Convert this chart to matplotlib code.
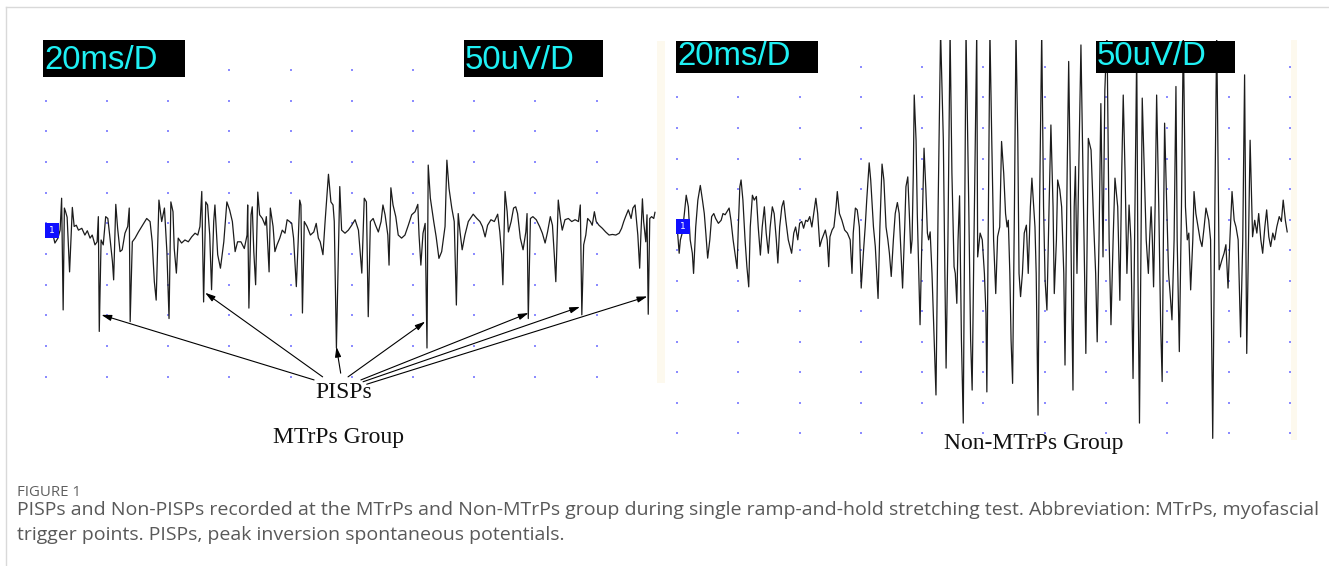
import numpy as np
import matplotlib.pyplot as plt
from matplotlib.patches import Rectangle
from matplotlib.lines import Line2D
from matplotlib.transforms import Affine2D

# ---- data (time in ms, amplitude in uV) ----
left_t = [2.4, 3.0, 4.0, 4.7, 5.2, 5.7, 6.1, 6.5, 7.0, 7.8,
          8.7, 9.3, 10.0, 10.7, 11.8, 12.8, 13.6, 14.5, 15.2, 16.1,
          16.8, 17.2, 17.5, 18.1, 18.8, 19.6, 20.3, 20.9, 21.8, 22.2,
          22.9, 23.5, 24.3, 25.0, 25.9, 26.8, 27.3, 27.6, 28.3, 29.2,
          30.3, 31.4, 33.0, 34.1, 34.8, 35.5, 36.1, 37.0, 37.9, 38.8,
          39.6, 40.3, 40.9, 41.6, 42.0, 42.7, 43.3, 44.4, 45.5, 46.6,
          47.7, 48.8, 49.7, 50.4, 51.0, 51.6, 52.3, 52.9, 53.6, 54.2,
          54.9, 55.3, 56.2, 57.1, 58.2, 59.2, 60.1, 61.0, 61.9, 62.7,
          63.8, 64.9, 65.8, 66.0, 66.4, 67.1, 67.5, 68.0, 68.6, 69.3,
          69.9, 70.8, 71.7, 72.1, 72.7, 73.0, 73.4, 74.3, 74.9, 75.6,
          76.5, 77.3, 78.2, 78.9, 79.7, 80.4, 81.0, 81.9, 82.5, 83.0,
          83.4, 83.9, 84.5, 85.4, 86.5, 87.6, 88.4, 89.1, 89.7, 90.6,
          91.3, 92.4, 93.2, 93.9, 94.3, 95.0, 95.4, 96.1, 96.7, 97.8,
          98.9, 100.0, 101.1, 102.2, 103.3, 104.1, 104.8, 105.4, 106.1, 107.0,
          107.8, 108.7, 109.6, 110.2, 110.9, 111.8, 112.2, 112.8, 113.5, 114.4,
          115.2, 116.3, 117.4, 118.5, 119.6, 120.7, 121.6, 122.0, 122.6, 123.3,
          124.0, 124.6, 125.0, 125.7, 126.8, 127.6, 128.5, 129.4, 130.5, 131.1,
          131.8, 132.7, 133.5, 134.2, 134.8, 135.4, 136.1, 137.0, 138.1, 139.7,
          140.9, 141.9, 142.7, 143.6, 144.4, 145.5, 146.6, 147.7, 148.4, 149.0,
          149.4, 150.1, 150.8, 151.2, 152.1, 152.9, 153.6, 154.2, 155.1, 156.0,
          156.9, 157.3, 157.7, 158.4, 159.2, 160.3, 161.4, 162.3, 163.2, 164.0,
          164.9, 165.6, 166.2, 166.7, 167.5, 168.2, 168.8, 169.7, 170.8, 171.9,
          173.0, 174.1, 174.7, 175.2, 175.8, 176.5, 177.1, 178.0, 178.6, 179.3,
          179.9, 180.8, 181.9, 183.0, 184.1, 185.2, 186.3, 187.4, 188.2, 188.9,
          189.5, 190.4, 191.3, 191.9, 192.6, 193.5, 194.1, 194.5, 195.0, 195.4,
          196.1, 196.5, 196.9, 197.4, 198.0, 198.7, 199.1]
left_uv = [-5, -18, -10, 3, 55, -127, 39, 33, 24, -65,
           40, 9, 11, 3, 6, -5, 2, -10, -5, -21,
           -16, 25, -162, -13, -21, 25, 22, -5, -48, -78,
           45, 6, -32, -29, -2, 9, 39, -146, -16, -10,
           0, 9, 22, 17, -16, -81, -111, 52, 17, 39,
           -32, -141, 49, 33, -27, -67, -10, -18, -13, -16,
           -8, -2, -5, 9, 66, -114, 49, 44, -5, -94,
           17, 44, -37, -59, -16, 49, 36, 17, -32, -16,
           -16, -27, -5, 44, -124, 28, 41, -32, -86, 65,
           28, 22, 11, 25, -37, -65, 39, 9, -32, -21,
           -10, 3, -2, 20, 17, 14, -10, -89, -16, 52,
           44, -132, 17, 9, -5, 0, 14, -10, -16, -37,
           17, 94, 49, 44, 17, -189, -92, 74, 3, -2,
           3, 11, 20, 3, -67, 55, 49, -138, 17, 22,
           11, 0, 17, 44, 28, -5, -54, 72, 44, 25,
           -5, -10, -5, 11, 28, 33, 45, -5, -54, -2,
           14, -189, 109, 55, 17, -8, -43, -32, 9, 117,
           71, 39, 17, -119, 30, 0, -29, -5, 17, 29,
           22, 17, 9, -8, 11, 20, 17, 29, 0, -37,
           -86, 66, 33, 0, 17, 39, 41, 30, -10, -29,
           0, 30, -141, 22, 25, 20, 9, -2, -18, 0,
           25, 11, -37, -81, 52, 22, 3, 20, 22, 17,
           20, 17, 44, -135, -21, -5, 22, 17, 11, 33,
           17, 11, 6, 0, -5, -4, -5, -2, 6, 17,
           25, 36, 22, 39, 44, -5, -59, -5, 54, 17,
           -16, 28, -134, 22, 25, 22, 32]

right_t = [0.2, 0.7, 1.1, 1.7, 2.4, 3.0, 3.7, 4.3, 5.0, 5.4,
           6.1, 6.8, 7.6, 8.3, 8.9, 9.4, 10.0, 10.7, 11.3, 12.0,
           12.6, 13.5, 14.4, 15.0, 15.7, 16.3, 17.0, 17.6, 18.3, 18.9,
           19.6, 20.0, 20.5, 20.9, 21.5, 22.2, 22.8, 23.4, 23.9, 24.6,
           25.2, 25.9, 26.5, 27.2, 27.8, 28.5, 29.1, 29.8, 30.4, 31.1,
           31.7, 32.4, 32.9, 33.5, 34.2, 34.8, 35.5, 36.3, 37.4, 38.1,
           38.7, 39.4, 40.0, 40.7, 41.3, 42.0, 42.6, 43.3, 44.0, 44.6,
           45.3, 45.9, 46.6, 47.2,
           48.4, 49.0, 49.5, 49.9, 50.6, 51.2, 51.9, 52.3, 53.0, 53.8,
           54.7, 55.6, 56.5, 57.1, 57.5, 58.2, 58.8, 59.5, 60.1, 60.8,
           61.4, 61.9, 62.7, 63.2, 64.1, 64.7, 65.6, 66.2, 66.9, 67.5,
           68.2, 68.8, 69.3, 69.9, 70.6, 71.2, 71.9, 72.5, 73.2, 73.6,
           74.3, 74.7, 75.3, 75.8, 76.3, 76.7, 77.1, 77.4, 78.0, 78.4,
           78.9, 79.3, 79.9, 80.6, 81.2, 81.7, 82.1, 82.6, 83.2, 83.9,
           84.5, 85.2, 86.0, 86.9, 87.4, 87.8, 88.4, 89.1, 89.7, 90.4,
           90.8, 91.3, 91.7, 92.2, 92.8, 93.4, 93.9, 94.3, 95.2, 95.8,
           96.3, 96.9, 97.8, 98.1, 98.9, 99.6, 100.3, 100.8, 101.1, 101.6,
           102.1, 102.7, 103.3, 104.0, 104.6, 105.3, 105.9, 106.6, 107.2, 107.7,
           108.1, 108.6, 109.0, 109.5, 110.1, 110.6, 111.2, 111.6, 112.1, 112.7,
           113.3, 114.0, 114.6, 115.3, 115.8, 116.4, 116.8, 117.2, 117.8, 118.3,
           119.0, 119.6, 120.1, 120.7, 121.4, 122.0, 122.7, 123.1, 123.8, 124.2,
           124.9, 125.5, 126.2, 126.6, 127.3, 127.8, 128.3, 128.8, 129.2, 129.6,
           130.0, 130.5, 131.8, 133.4, 134.2, 135.1, 136.0, 136.6, 137.1, 137.7,
           138.3, 139.0, 139.6, 140.3, 141.0, 141.6, 142.3, 142.9, 143.8, 144.5,
           145.1, 145.6, 146.2, 146.8, 147.5, 148.1, 148.8, 150.0, 150.4, 150.9,
           151.4, 151.8, 152.5, 153.1, 153.8, 154.2, 154.7, 155.1, 155.5, 156.0,
           156.5, 157.2, 157.8, 158.3, 158.7, 159.1, 159.8, 160.4, 160.9, 161.5,
           162.2, 162.8, 163.2, 163.9, 164.6, 165.2, 165.9, 166.5, 167.0, 167.6,
           168.3, 168.7, 169.3, 170.0, 170.7, 171.3, 172.0, 172.6, 173.5, 174.1,
           174.8, 175.5, 176.1, 176.9, 177.8, 178.5, 179.1, 179.8, 180.4, 181.1,
           181.8, 182.4, 183.1, 183.9, 184.6, 185.2, 185.9, 187.0, 187.8, 188.5,
           189.2, 189.8, 190.5, 191.1, 191.8, 192.4, 193.1, 193.7, 194.4, 195.0,
           195.7, 196.5, 197.2, 197.8, 198.5, 199.1]
right_uv = [-10, -43, -21, -10, 22, 52, 33, -21, -43, -76,
            0, 44, 68, 44, 22, -10, -51, -21, 17, 22,
            14, 6, 11, 22, 20, 25, 31, 11, -21, -43,
            -68, 0, 66, 77, 44, -21, -65, -98, 0, 52,
            44, 50, 0, -46, 0, 33, -10, -43, 0, 33,
            22, -21, -59, 0, 33, 43, 11, -21, -43, -10,
            0, -21, 6, 9, -2, 11, 9, 17, 0, 22,
            47, 22, -32, -21,
            -5, -21, -65, -16, -5, 0, 33, 58, 22, 11,
            -5, -10, -21, -76, -10, 31, 28, 0, -100, -43,
            0, 44, 105, 77, 0, -32, -117, 0, 103, 77,
            0, -21, -43, -81, -21, 22, 40, 22, -54, -100,
            0, 66, 82, 22, -43, -21, 88, 216, 142, 22,
            -76, -160, -21, 129, 61, -10, -21, -8, -76, -185,
            -275, 33, 320, 142, -76, -231, -21, 320, 88, -65,
            -76, -125, -21, 51, -185, -321, 33, 320, 33, -185,
            -267, -21, 320, -49, -10, -21, -76, -141, -270, 33,
            320, 142, -21, -109, -16, 0, 140, 88, 22, 0,
            11, -76, -185, -256, 33, 320, 142, -76, -114, -76,
            -10, 3, -76, 33, 80, 33, 0, -76, -308, 33,
            320, 33, -87, -136, 33, 167, 33, -109, -21, 77,
            61, 33, -76, -226, 88, 271, 88, -130, -267, 33,
            99, -76, 298, -207, 145, 126, 0, -76, -188, -21,
            202, -49, 224, 320, -21, -160, -21, 80, 33, -120,
            88, 216, 88, -76, 36, -21, -248, 290, -76, -321,
            -21, 211, 88, -21, -76, -21, 33, -21, -98, 33,
            216, 33, -158, -253, -21, 170, 33, -76, -109, -152,
            -21, 230, -21, -204, 33, 320, 33, -21, -10, -103,
            -21, 58, 22, 0, -21, -32, 0, 31, 11, -21,
            -346, 33, 320, -70, -54, -43, -29, -100, -21, 58,
            11, 0, -21, -180, -21, 249, -207, 142, -16, 11,
            -10, 22, -21, -43, 0, 28, -16, -32, -10, -21,
            0, 17, 9, 44, 11, -8]

# PISPs arrows: heads near the inverted peaks, tails under the label
pisp_t = [18.2, 52.1, 95.0, 124.0, 157.8, 174.6, 196.6]
pisp_uv = [-135, -99, -187, -146, -132, -122, -105]
tail_t = [87.7, 90.5, 96.4, 98.8, 103.0, 103.7, 104.9]
tail_uv = [-241, -236, -230, -236, -241, -244, -248]

grid_t = np.arange(0, 201, 20)
left_rows = 264 - 50 * np.arange(11)
right_rows = 262 - 50 * np.arange(13)

W, H = 1329, 566
fig = plt.figure(figsize=(W / 100, H / 100), dpi=100)
fig.patch.set_facecolor('white')
# pixel transform, origin top-left, for the page furniture
px = Affine2D().scale(1 / W, -1 / H).translate(0, 1) + fig.transFigure

# frame lines of the page
fig.add_artist(Line2D([6, W], [7, 7], transform=px, color='#d9d9d9', lw=1))
fig.add_artist(Line2D([6, 6], [7, H], transform=px, color='#d9d9d9', lw=1))

# faint cream edges of the two screenshots
for x0, y0, x1, y1 in [(657, 41, 665, 383), (1291, 40, 1297, 440)]:
    fig.add_artist(Rectangle((x0, y0), x1 - x0, y1 - y0, transform=px,
                             facecolor='#fdf9ee', edgecolor='none', zorder=0.5))


def panel(x0, y0, x1, y1, xlim, ylim, rows, t, uv):
    ax = fig.add_axes([x0 / W, 1 - y1 / H, (x1 - x0) / W, (y1 - y0) / H])
    ax.set_xlim(*xlim)
    ax.set_ylim(*ylim)
    ax.axis('off')
    gx, gy = np.meshgrid(grid_t, rows)
    ax.scatter(gx.ravel(), gy.ravel(), s=1.3, marker='s', color='#8c8cff',
               linewidths=0, zorder=1)
    ax.plot(t, uv, color='#1c1c1c', lw=0.9, zorder=2)
    return ax


ax_l = panel(35, 41, 662, 383, (-3.5, 201.4), (-246.0, 311.1), left_rows, left_t, left_uv)
ax_r = panel(662, 40, 1297, 440, (-4.9, 202.3), (-348.7, 306.1), right_rows, right_t, right_uv)

for tt, tv, st, sv in zip(pisp_t, pisp_uv, tail_t, tail_uv):
    ax_l.annotate('', xy=(tt, tv), xytext=(st, sv), annotation_clip=False,
                  arrowprops=dict(arrowstyle='-|>,head_length=0.6,head_width=0.18',
                                  color='black', lw=0.8, shrinkA=0, shrinkB=0))


def scope_box(x0, y0, x1, y1, base, text):
    fig.add_artist(Rectangle((x0, y0), x1 - x0, y1 - y0, transform=px,
                             facecolor='black', edgecolor='none', zorder=5))
    fig.text(x0 + 1, base, text, transform=px, color='#1ff0f4', fontsize=23.8,
             family='Liberation Sans', ha='left', va='baseline', zorder=6)


scope_box(43, 40, 185, 77, 69, '20ms/D')
scope_box(464, 40, 603, 77, 69, '50uV/D')
scope_box(676, 41, 818, 73, 65, '20ms/D')
scope_box(1096, 41, 1235, 73, 65, '50uV/D')

# channel markers
for x0, y0 in [(45, 223), (676, 219)]:
    fig.add_artist(Rectangle((x0, y0), 14, 15, transform=px,
                             facecolor='#1010ff', edgecolor='none', zorder=5))
    fig.text(x0 + 7, y0 + 7.5, '1', transform=px, color='white', fontsize=6.5,
             ha='center', va='center', zorder=6)

serif = dict(transform=px, family='Liberation Serif', fontsize=17,
             color='#111111', ha='center', va='center')
fig.text(344, 393, 'PISPs', **serif)
fig.text(338.5, 438, 'MTrPs Group', **serif)
fig.text(1034, 444, 'Non-MTrPs Group', **serif)

fig.text(17, 492, 'FIGURE 1', transform=px, family='Open Sans', fontsize=10.8,
         color='#5f5f5f', ha='left', va='center')
fig.text(17, 510, 'PISPs and Non-PISPs recorded at the MTrPs and Non-MTrPs group during '
         'single ramp-and-hold stretching test. Abbreviation: MTrPs, myofascial',
         transform=px, family='Open Sans', fontsize=14, color='#595959',
         ha='left', va='center')
fig.text(17, 535, 'trigger points. PISPs, peak inversion spontaneous potentials.',
         transform=px, family='Open Sans', fontsize=14, color='#595959',
         ha='left', va='center')

fig.savefig('out.png', dpi=100)
